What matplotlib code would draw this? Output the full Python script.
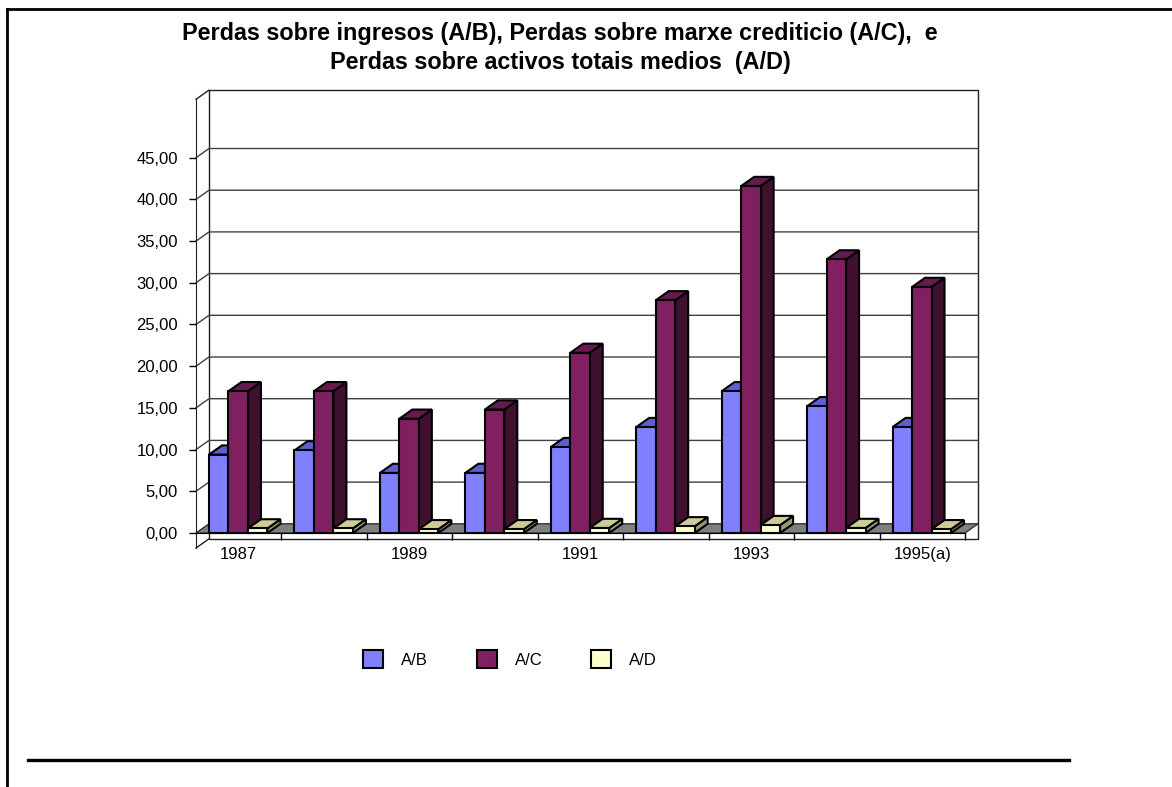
import numpy as np
import matplotlib.pyplot as plt
from matplotlib.patches import Polygon, Patch
from matplotlib.lines import Line2D

plt.rcParams['font.family'] = ['Liberation Sans', 'DejaVu Sans']

# data
years = ['1987', '1988', '1989', '1990', '1991', '1992', '1993', '1994', '1995(a)']
ab = [9.4, 9.9, 7.2, 7.2, 10.3, 12.7, 17.0, 15.2, 12.7]
ac = [17.0, 17.0, 13.7, 14.8, 21.6, 27.9, 41.6, 32.8, 29.5]
ad = [0.55, 0.55, 0.45, 0.45, 0.6, 0.8, 0.95, 0.6, 0.45]
series_names = ['A/B', 'A/C', 'A/D']
yticks = np.arange(0, 50, 5)

front_colors = ['#8080FF', '#802060', '#FFFFCC']
top_colors = ['#5F5FCF', '#661A4D', '#CCCC99']
side_colors = ['#40407F', '#40102F', '#99997A']

title = ('Perdas sobre ingresos (A/B), Perdas sobre marxe crediticio (A/C),  e\n'
         'Perdas sobre activos totais medios  (A/D)')

W, H = 1172, 787
fig = plt.figure(figsize=(W / 100, H / 100), dpi=100)
fig.patch.set_facecolor('white')

# axes box = front plane of the 3d chart
ax = fig.add_axes([196 / W, 1 - 548 / H, 769 / W, 448.7 / H])
ymin, ymax = -1.8, 52.0
ncat = len(years)
ax.set_xlim(0, ncat)
ax.set_ylim(ymin, ymax)
ax.patch.set_visible(False)

dx = 13 / 85.44      # depth offset in category units
dy = 1.1             # depth offset in value units
bw = 0.228           # bar width

# back wall and side wall
ax.add_patch(Polygon([(dx, ymin + dy), (ncat + dx, ymin + dy), (ncat + dx, ymax + dy), (dx, ymax + dy)],
                     closed=True, fill=False, ec='#202020', lw=1, clip_on=False, zorder=1))
ax.plot([0, dx], [ymax, ymax + dy], color='#202020', lw=1, clip_on=False, zorder=1)
ax.plot([0, dx], [ymin, ymin + dy], color='#202020', lw=1, clip_on=False, zorder=1)
for v in yticks[1:]:
    ax.plot([0, dx, ncat + dx], [v, v + dy, v + dy], color='#404040', lw=1, clip_on=False, zorder=1)

# floor
ax.add_patch(Polygon([(0, 0), (ncat, 0), (ncat + dx, dy), (dx, dy)], closed=True,
                     fc='#808080', ec='#303030', lw=1, clip_on=False, zorder=2))

# 3d bars
for i in range(ncat):
    for j, vals in enumerate([ab, ac, ad]):
        h = vals[i]
        x0 = i + dx + j * bw
        x1 = x0 + bw
        kw = dict(closed=True, ec='black', lw=1.5, joinstyle='miter', clip_on=False, zorder=3)
        ax.add_patch(Polygon([(x1, 0), (x1 + dx, dy), (x1 + dx, h + dy), (x1, h)], fc=side_colors[j], **kw))
        ax.add_patch(Polygon([(x0, h), (x1, h), (x1 + dx, h + dy), (x0 + dx, h + dy)], fc=top_colors[j], **kw))
        ax.add_patch(Polygon([(x0, 0), (x1, 0), (x1, h), (x0, h)], fc=front_colors[j], **kw))

# axes styling
for s in ['top', 'right']:
    ax.spines[s].set_visible(False)
ax.spines['left'].set_color('#202020')
ax.spines['bottom'].set_position(('data', 0))
ax.spines['bottom'].set_color('black')
ax.spines['bottom'].set_zorder(4)

ax.set_yticks(yticks)
ax.set_yticklabels([('%.2f' % v).replace('.', ',') for v in yticks])
ax.tick_params(axis='y', direction='out', length=5, width=1, pad=8, labelsize=12)

ax.set_xticks(np.arange(ncat) + 0.5)
ax.set_xticklabels([y if k % 2 == 0 else '' for k, y in enumerate(years)])
ax.set_xticks(np.arange(1, ncat + 1), minor=True)
ax.tick_params(axis='x', which='major', length=0, pad=10, labelsize=12)
ax.tick_params(axis='x', which='minor', direction='out', length=5, width=1)

# title
fig.text(560 / W, 1 - 48 / H, title, ha='center', va='center', fontsize=16.8,
         fontweight='bold', linespacing=1.35)

# legend
handles = [Patch(fc=c, ec='black', lw=1.5) for c in front_colors]
fig.legend(handles, series_names, loc='center', bbox_to_anchor=(510 / W, 1 - 659 / H), ncol=3,
           frameon=False, fontsize=12, handlelength=1.2, handleheight=1.2,
           handletextpad=1.1, columnspacing=2.9)

# frame lines of the original page
fig.add_artist(Line2D([7 / W, 1], [1 - 9 / H] * 2, transform=fig.transFigure, color='black', lw=2))
fig.add_artist(Line2D([7 / W] * 2, [0, 1 - 9 / H], transform=fig.transFigure, color='black', lw=2))
fig.add_artist(Line2D([28 / W, 1069 / W], [1 - 760 / H] * 2, transform=fig.transFigure,
                      color='black', lw=2.4))

fig.savefig('out.png', dpi=100)
